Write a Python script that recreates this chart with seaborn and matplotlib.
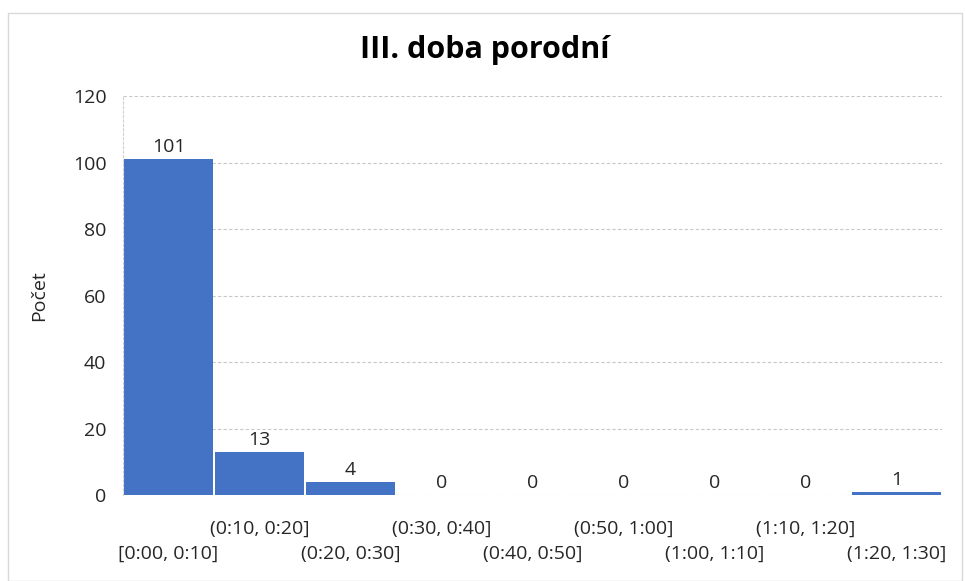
import matplotlib
matplotlib.use("Agg")
import matplotlib.pyplot as plt
import seaborn as sns
import pandas as pd
from matplotlib.patches import Rectangle

categories = ["[0:00, 0:10]", "(0:10, 0:20]", "(0:20, 0:30]", "(0:30, 0:40]",
              "(0:40, 0:50]", "(0:50, 1:00]", "(1:00, 1:10]", "(1:10, 1:20]",
              "(1:20, 1:30]"]
counts = [101, 13, 4, 0, 0, 0, 0, 0, 1]
yticks = [0, 20, 40, 60, 80, 100, 120]
title = "III. doba porodní"
ylabel = "Počet"

sns.set_theme(style="white")
plt.rcParams['font.family'] = ['Open Sans', 'DejaVu Sans']

df = pd.DataFrame({"cat": categories, "count": counts})

fig = plt.figure(figsize=(9.65, 5.81), dpi=100)
ax = fig.add_axes([123/965, 1-495/581, (942-123)/965, (495-96)/581])

sns.barplot(data=df, x="cat", y="count", color="#4472C4", width=0.976,
            linewidth=0, saturation=1, ax=ax)

FS = 14
ax.set_ylim(0, 120)
ax.set_xlim(-0.5, len(categories)-0.5)
ax.set_yticks(yticks)
ax.set_yticklabels([str(v) for v in yticks], fontsize=FS, color="#262626")
ax.yaxis.grid(True, color="#c8c8c8", linestyle=(0, (3, 2)), linewidth=0.8)
ax.set_axisbelow(True)
for s in ["top", "right", "bottom"]:
    ax.spines[s].set_visible(False)
ax.spines["left"].set_color("#d0d0d0")
ax.spines["left"].set_linestyle((0, (2, 2)))
ax.spines["left"].set_linewidth(0.8)

labels = [("\n" + c) if i % 2 == 0 else (c + "\n") for i, c in enumerate(categories)]
ax.set_xticks(range(len(categories)))
ax.set_xticklabels(labels, fontsize=FS, color="#262626", linespacing=1.5)
ax.tick_params(axis="x", length=0, pad=18)
ax.tick_params(axis="y", length=0, pad=12)
ax.set_xlabel("")
ax.set_ylabel(ylabel, fontsize=FS, color="#262626", labelpad=18)

ax.bar_label(ax.containers[0], labels=[str(v) for v in counts],
             fontsize=FS, color="#262626", padding=2)

fig.suptitle(title, fontsize=22, fontweight="bold", color="#000000",
             x=0.502, y=1-50/581, va="center")

fig.patches.append(Rectangle((8/965, 0), (962-8)/965, 1-13/581, transform=fig.transFigure,
                             fill=False, edgecolor="#d9d9d9", linewidth=1))

fig.savefig("out.png", dpi=100)
